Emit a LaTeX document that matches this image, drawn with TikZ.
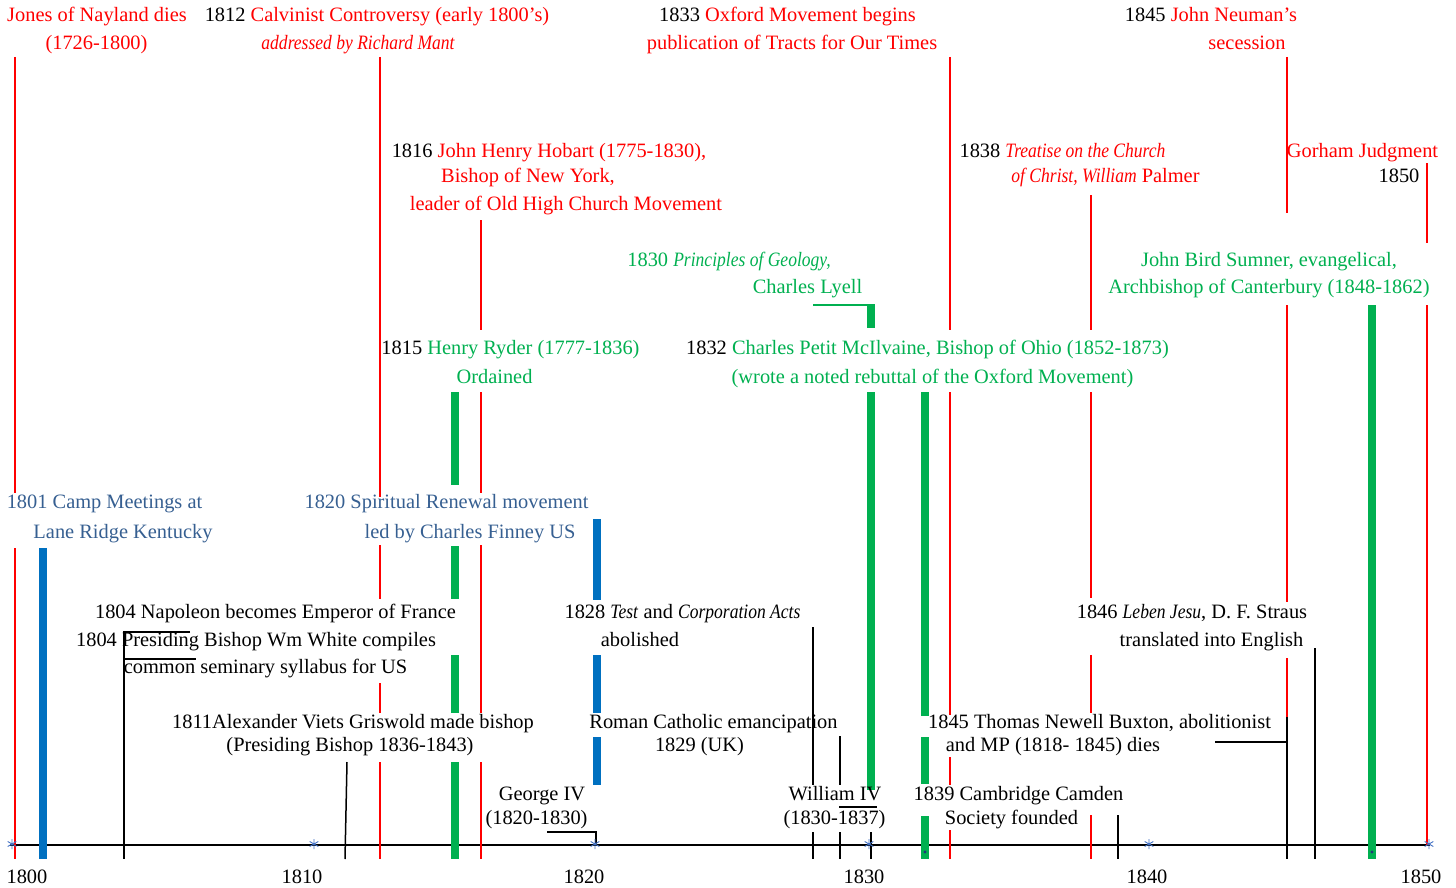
\documentclass[tikz,border=0pt]{standalone}
\usepackage{fontspec}
\setmainfont{Liberation Serif}[ItalicFeatures={FakeStretch=0.86}]

\definecolor{evred}{RGB}{255,0,0}
\definecolor{evgreen}{RGB}{0,176,80}
\definecolor{evblue}{RGB}{0,112,192}
\definecolor{txtblue}{RGB}{54,95,145}
\definecolor{starblue}{RGB}{68,114,196}
\definecolor{dotblue}{RGB}{31,56,120}

\tikzset{
  lbl/.style={anchor=base, inner sep=0pt, font=\fontsize{20.4}{24}\selectfont},
  redlbl/.style={lbl, text=evred},
  greenlbl/.style={lbl, text=evgreen},
  bluelbl/.style={lbl, text=txtblue},
  blacklbl/.style={lbl, text=black},
  redline/.style={draw=evred, line width=1.5pt},
  blkline/.style={draw=black, line width=1.5pt},
  gbar/.style={draw=evgreen, line width=8pt},
  bbar/.style={draw=evblue, line width=8pt},
  axisline/.style={draw=black, line width=1.8pt},
  yearstar/.pic={\draw[starblue, line width=0.9pt] (0,-5) -- (0,5) (-4.3,-2.5) -- (4.3,2.5) (-4.3,2.5) -- (4.3,-2.5);}
}

\begin{document}
\begin{tikzpicture}[x=1pt, y=-1pt]
\useasboundingbox (0,0) rectangle (1456,888);

% time axis, 1800--1850
\draw[axisline] (10,845) -- (1430,845);

% ---------- thin red event lines ----------
\foreach \a/\b in {57/493, 548/859} \draw[redline] (15,\a) -- (15,\b);
\foreach \a/\b in {57/497, 545/599, 683/713, 762/859} \draw[redline] (380,\a) -- (380,\b);
\foreach \a/\b in {220/330, 392/493, 545/713, 762/859} \draw[redline] (481,\a) -- (481,\b);
\foreach \a/\b in {57/330, 392/715, 757/785, 830/859} \draw[redline] (950,\a) -- (950,\b);
\foreach \a/\b in {195/330, 392/598, 655/713, 815/859} \draw[redline] (1091,\a) -- (1091,\b);
\foreach \a/\b in {57/213, 305/602, 658/717} \draw[redline] (1287,\a) -- (1287,\b);
\foreach \a/\b in {163/243, 305/845} \draw[redline] (1427,\a) -- (1427,\b);

% ---------- thin black event lines ----------
\draw[blkline] (190,632) -- (124,632) -- (124,859);
\draw[blkline] (124,659) -- (196,659);
\draw[blkline] (347,762) -- (345,859);
\draw[blkline] (547,832) -- (596,832) -- (596,845);
\foreach \a/\b in {627/785, 832/859} \draw[blkline] (813,\a) -- (813,\b);
\foreach \a/\b in {736/785, 832/859} \draw[blkline] (840,\a) -- (840,\b);
\draw[blkline] (839,807) -- (877,807);
\draw[blkline] (871,832) -- (871,859);
\draw[blkline] (1118,815) -- (1118,859);
\draw[blkline] (1287,717) -- (1287,859);
\draw[blkline] (1215,742) -- (1287,742);
\draw[blkline] (1315,648) -- (1315,859);

% ---------- thick blue bars ----------
\draw[bbar] (43,548) -- (43,859);
\foreach \a/\b in {519/600, 655/713, 737/785} \draw[bbar] (596.5,\a) -- (596.5,\b);

% ---------- thick green bars ----------
\foreach \a/\b in {392/485, 546/599, 655/713, 762/859} \draw[gbar] (455,\a) -- (455,\b);
\draw[draw=evgreen, line width=2pt] (813,305) -- (871,305);
\foreach \a/\b in {304/328, 392/790} \draw[gbar] (871,\a) -- (871,\b);
\foreach \a/\b in {392/716, 737/784, 816/859} \draw[gbar] (925,\a) -- (925,\b);
\draw[gbar] (1372,305) -- (1372,859);
\fill[dotblue] (925,852) circle (1.6pt) (1372,852) circle (1.6pt);

% decade markers on the axis
\foreach \x in {12,314,595,869,1149,1429} \pic at (\x,844) {yearstar};

% ---------- top row ----------
\node[redlbl] (jones1) at (97,21.5) {Jones of Nayland dies};
\node[redlbl] (jones2) at (96.5,49.5) {(1726-1800)};
\node[redlbl] (calvin1) at (377,21.5) {\textcolor{black}{1812} Calvinist Controversy (early 1800’s)};
\node[redlbl] (calvin2) at (358,49.5) {\itshape addressed by Richard Mant};
\node[redlbl] (oxford1) at (787.5,21.5) {\textcolor{black}{1833} Oxford Movement begins};
\node[redlbl] (oxford2) at (792,49.5) {publication of Tracts for Our Times};
\node[redlbl] (neuman1) at (1211,21.5) {\textcolor{black}{1845} John Neuman’s};
\node[redlbl] (neuman2) at (1247,49.5) {secession};

% ---------- second row ----------
\node[redlbl] (hobart1) at (549,157.5) {\textcolor{black}{1816} John Henry Hobart (1775-1830),};
\node[redlbl] (hobart2) at (528,182.5) {Bishop of New York,};
\node[redlbl] (hobart3) at (566,210.5) {leader of Old High Church Movement};
\node[redlbl] (palmer1) at (1062.5,157.5) {\textcolor{black}{1838} \textit{Treatise on the Church}};
\node[redlbl] (palmer2) at (1105.5,182.5) {\textit{of Christ, William} Palmer};
\node[redlbl] (gorham1) at (1362.5,157.5) {Gorham Judgment};
\node[blacklbl] (gorham2) at (1399,182.5) {1850};

% ---------- green entries ----------
\node[greenlbl] (lyell1) at (729,266.5) {1830 \textit{Principles of Geology,}};
\node[greenlbl] (lyell2) at (807.5,293.5) {Charles Lyell};
\node[greenlbl] (sumner1) at (1269,266.5) {John Bird Sumner, evangelical,};
\node[greenlbl] (sumner2) at (1269,293.5) {Archbishop of Canterbury (1848-1862)};
\node[greenlbl] (ryder1) at (510.5,354.5) {\textcolor{black}{1815} Henry Ryder (1777-1836)};
\node[greenlbl] (ryder2) at (494.5,383.5) {Ordained};
\node[greenlbl] (mcilvaine1) at (927.5,354.5) {\textcolor{black}{1832} Charles Petit McIlvaine, Bishop of Ohio (1852-1873)};
\node[greenlbl] (mcilvaine2) at (932.5,383.5) {(wrote a noted rebuttal of the Oxford Movement)};

% ---------- blue entries ----------
\node[bluelbl] (camp1) at (104.5,508.5) {1801 Camp Meetings at};
\node[bluelbl] (camp2) at (123,538.5) {Lane Ridge Kentucky};
\node[bluelbl] (finney1) at (446.5,508.5) {1820 Spiritual Renewal movement};
\node[bluelbl] (finney2) at (470,538.5) {led by Charles Finney US};

% ---------- black entries ----------
\node[blacklbl] (napoleon) at (275.5,618.5) {1804 Napoleon becomes Emperor of France};
\node[blacklbl] (white1) at (256,646.5) {1804 Presiding Bishop Wm White compiles};
\node[blacklbl] (white2) at (265.5,673.5) {common seminary syllabus for US};
\node[blacklbl] (testacts1) at (682.5,618.5) {1828 \textit{Test} and \textit{Corporation Acts}};
\node[blacklbl] (testacts2) at (640,646.5) {abolished};
\node[blacklbl] (strauss1) at (1192,618.5) {1846 \textit{Leben Jesu}, D. F. Straus};
\node[blacklbl] (strauss2) at (1211.5,646.5) {translated into English};
\node[blacklbl] (griswold1) at (353,728.5) {1811Alexander Viets Griswold made bishop};
\node[blacklbl] (griswold2) at (350,751.5) {(Presiding Bishop 1836-1843)};
\node[blacklbl] (emancip1) at (713.5,728.5) {Roman Catholic emancipation};
\node[blacklbl] (emancip2) at (699.5,751.5) {1829 (UK)};
\node[blacklbl] (buxton1) at (1099.5,728.5) {1845 Thomas Newell Buxton, abolitionist};
\node[blacklbl] (buxton2) at (1053,751.5) {and MP (1818- 1845) dies};
\node[blacklbl] (george1) at (542,800.5) {George IV};
\node[blacklbl] (george2) at (536.5,824.5) {(1820-1830)};
\node[blacklbl] (william1) at (835,800.5) {William IV};
\node[blacklbl] (william2) at (834.5,824.5) {(1830-1837)};
\node[blacklbl] (camden1) at (1018.5,800.5) {1839 Cambridge Camden};
\node[blacklbl] (camden2) at (1011.5,824.5) {Society founded};

% ---------- decade labels ----------
\node[blacklbl] (y1800) at (27,883) {1800};
\node[blacklbl] (y1810) at (302,883) {1810};
\node[blacklbl] (y1820) at (584,883) {1820};
\node[blacklbl] (y1830) at (864,883) {1830};
\node[blacklbl] (y1840) at (1147,883) {1840};
\node[blacklbl] (y1850) at (1421,883) {1850};
\end{tikzpicture}
\end{document}
